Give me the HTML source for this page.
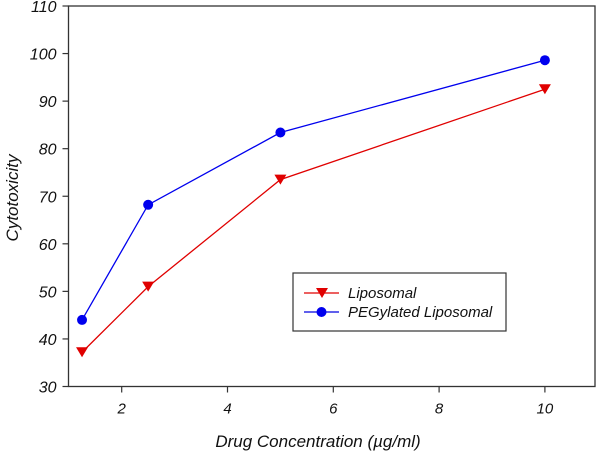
<!DOCTYPE html>
<html><head><meta charset="utf-8"><style>
body{margin:0;background:#fff}
svg text{font-family:"Liberation Sans",Arial,sans-serif;font-style:italic;fill:#111}
</style></head><body>
<svg id="chart" width="600" height="451">
<g id="axes"></g><g id="series"></g>
<g>
<rect x="293" y="273" width="213" height="58" fill="#fff" stroke="#333" stroke-width="1.2"/>
<g>
<line x1="304" y1="293" x2="339" y2="293" stroke="#e00000" stroke-width="1.3"/>
<path d="M316,288 L328,288 L322,298 Z" fill="#e00000"/>
<text x="348" y="298" font-size="15">Liposomal</text></g>
<g>
<line x1="304" y1="312" x2="339" y2="312" stroke="#0000e0" stroke-width="1.3"/>
<circle cx="321.5" cy="312" r="5" fill="#0000ee"/>
<text x="348" y="317" font-size="15">PEGylated Liposomal</text></g>
</g>
<text x="318" y="447" font-size="17" text-anchor="middle">Drug Concentration (µg/ml)</text>
<text transform="translate(18,198) rotate(-90)" font-size="17" text-anchor="middle">Cytotoxicity</text>
</svg>
<script>
const xValues=[1.25,2.5,5,10];
const liposomal=[37.2,51,73.5,92.5];
const pegylated=[44,68.2,83.4,98.6];
const xTicks=[2,4,6,8,10];
const yTicks=[30,40,50,60,70,80,90,100,110];
const L=68.5,R=595,T=6,B=386.5;
const xs=v=>121.7+(v-2)*52.9;
const ys=v=>B-(v-30)/80*(B-T);
const NS="http://www.w3.org/2000/svg";
function mk(tag,attrs,parent){const e=document.createElementNS(NS,tag);for(const k in attrs)e.setAttribute(k,attrs[k]);parent.appendChild(e);return e;}
const ax=document.getElementById('axes');
const frame=mk('rect',{x:L,y:T,width:R-L,height:B-T,fill:'none',stroke:'#333','stroke-width':1.3},ax);


xTicks.forEach(t=>{
 const l=mk('line',{x1:xs(t),x2:xs(t),y1:B,y2:B+6,stroke:'#333','stroke-width':1.2},ax);
 
 
 const tx=mk('text',{x:xs(t),y:B+27,'font-size':15,'text-anchor':'middle'},ax);tx.textContent=t;
 
 
});
yTicks.forEach(t=>{
 const l=mk('line',{x1:L-6,x2:L,y1:ys(t),y2:ys(t),stroke:'#333','stroke-width':1.2},ax);
 
 
 const tx=mk('text',{x:L-12,y:ys(t)+6,'font-size':16,'text-anchor':'end'},ax);tx.textContent=t;
 
 
});
const sg=document.getElementById('series');
function series(vals,color,name,marker){
 const pl=mk('polyline',{points:vals.map((v,i)=>xs(xValues[i])+','+ys(v)).join(' '),fill:'none',stroke:color,'stroke-width':1.3},sg);
 
 
 vals.forEach((v,i)=>{
  const x=xs(xValues[i]),y=ys(v);let m;
  if(marker==='tri')m=mk('path',{d:`M${x-6},${y-5} L${x+6},${y-5} L${x},${y+5} Z`,fill:color},sg);
  else m=mk('circle',{cx:x,cy:y,r:5,fill:color},sg);
  
  
 });
}
series(liposomal,'#e00000','liposomal','tri');
series(pegylated,'#0000ee','pegylated','circ');
</script>
</body></html>
